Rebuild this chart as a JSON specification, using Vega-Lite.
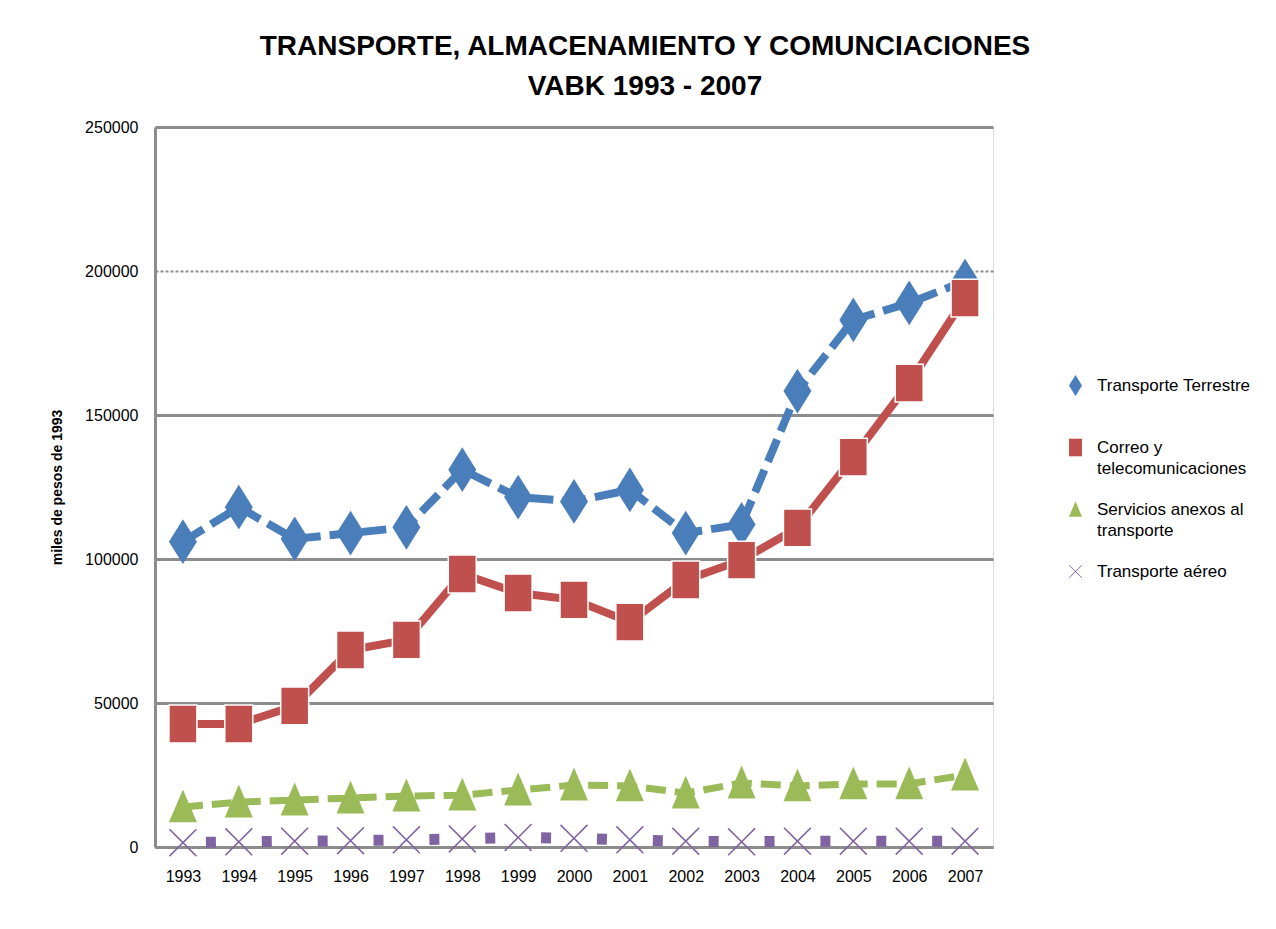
{
  "$schema": "https://vega.github.io/schema/vega-lite/v6.json",
  "autosize": "none",
  "width": 838,
  "height": 720,
  "padding": {"left": 155, "top": 127, "right": 283, "bottom": 82},
  "background": "white",
  "config": {"style": {"guide-label": {"lineHeight": 21}}},
  "title": {
    "text": ["TRANSPORTE, ALMACENAMIENTO Y COMUNCIACIONES", "VABK 1993 - 2007"],
    "font": "Liberation Sans",
    "fontSize": 28,
    "fontWeight": "bold",
    "color": "black",
    "lineHeight": 40,
    "anchor": "middle",
    "frame": "group",
    "dx": 71,
    "offset": 18
  },
  "data": {
    "values": [
      {"year": "1993", "series": "Transporte Terrestre", "value": 106000},
      {"year": "1994", "series": "Transporte Terrestre", "value": 118000},
      {"year": "1995", "series": "Transporte Terrestre", "value": 107000},
      {"year": "1996", "series": "Transporte Terrestre", "value": 109000},
      {"year": "1997", "series": "Transporte Terrestre", "value": 111000},
      {"year": "1998", "series": "Transporte Terrestre", "value": 131000},
      {"year": "1999", "series": "Transporte Terrestre", "value": 121500},
      {"year": "2000", "series": "Transporte Terrestre", "value": 120000},
      {"year": "2001", "series": "Transporte Terrestre", "value": 124000},
      {"year": "2002", "series": "Transporte Terrestre", "value": 109000},
      {"year": "2003", "series": "Transporte Terrestre", "value": 112000},
      {"year": "2004", "series": "Transporte Terrestre", "value": 158300},
      {"year": "2005", "series": "Transporte Terrestre", "value": 183000},
      {"year": "2006", "series": "Transporte Terrestre", "value": 188900},
      {"year": "2007", "series": "Transporte Terrestre", "value": 196500},
      {"year": "1993", "series": "Correo y telecomunicaciones", "value": 42700},
      {"year": "1994", "series": "Correo y telecomunicaciones", "value": 42700},
      {"year": "1995", "series": "Correo y telecomunicaciones", "value": 49000},
      {"year": "1996", "series": "Correo y telecomunicaciones", "value": 68400},
      {"year": "1997", "series": "Correo y telecomunicaciones", "value": 71900},
      {"year": "1998", "series": "Correo y telecomunicaciones", "value": 94800},
      {"year": "1999", "series": "Correo y telecomunicaciones", "value": 88200},
      {"year": "2000", "series": "Correo y telecomunicaciones", "value": 85800},
      {"year": "2001", "series": "Correo y telecomunicaciones", "value": 78100},
      {"year": "2002", "series": "Correo y telecomunicaciones", "value": 92700},
      {"year": "2003", "series": "Correo y telecomunicaciones", "value": 99600},
      {"year": "2004", "series": "Correo y telecomunicaciones", "value": 110800},
      {"year": "2005", "series": "Correo y telecomunicaciones", "value": 135400},
      {"year": "2006", "series": "Correo y telecomunicaciones", "value": 161100},
      {"year": "2007", "series": "Correo y telecomunicaciones", "value": 190600},
      {"year": "1993", "series": "Servicios anexos al transporte", "value": 13900},
      {"year": "1994", "series": "Servicios anexos al transporte", "value": 15600},
      {"year": "1995", "series": "Servicios anexos al transporte", "value": 16300},
      {"year": "1996", "series": "Servicios anexos al transporte", "value": 17000},
      {"year": "1997", "series": "Servicios anexos al transporte", "value": 17700},
      {"year": "1998", "series": "Servicios anexos al transporte", "value": 18000},
      {"year": "1999", "series": "Servicios anexos al transporte", "value": 19800},
      {"year": "2000", "series": "Servicios anexos al transporte", "value": 21500},
      {"year": "2001", "series": "Servicios anexos al transporte", "value": 21200},
      {"year": "2002", "series": "Servicios anexos al transporte", "value": 18700},
      {"year": "2003", "series": "Servicios anexos al transporte", "value": 22200},
      {"year": "2004", "series": "Servicios anexos al transporte", "value": 21200},
      {"year": "2005", "series": "Servicios anexos al transporte", "value": 21900},
      {"year": "2006", "series": "Servicios anexos al transporte", "value": 21900},
      {"year": "2007", "series": "Servicios anexos al transporte", "value": 25000},
      {"year": "1993", "series": "Transporte aéreo", "value": 1500},
      {"year": "1994", "series": "Transporte aéreo", "value": 1800},
      {"year": "1995", "series": "Transporte aéreo", "value": 2000},
      {"year": "1996", "series": "Transporte aéreo", "value": 2200},
      {"year": "1997", "series": "Transporte aéreo", "value": 2500},
      {"year": "1998", "series": "Transporte aéreo", "value": 2800},
      {"year": "1999", "series": "Transporte aéreo", "value": 3300},
      {"year": "2000", "series": "Transporte aéreo", "value": 3000},
      {"year": "2001", "series": "Transporte aéreo", "value": 2500},
      {"year": "2002", "series": "Transporte aéreo", "value": 2000},
      {"year": "2003", "series": "Transporte aéreo", "value": 1800},
      {"year": "2004", "series": "Transporte aéreo", "value": 2000},
      {"year": "2005", "series": "Transporte aéreo", "value": 2000},
      {"year": "2006", "series": "Transporte aéreo", "value": 2000},
      {"year": "2007", "series": "Transporte aéreo", "value": 2000}
    ]
  },
  "encoding": {
    "x": {
      "field": "year", "type": "ordinal", "title": null,
      "scale": {"type": "point", "padding": 0.5},
      "axis": {
        "labelAngle": 0, "labelFont": "Liberation Sans", "labelFontSize": 16, "labelColor": "black",
        "ticks": false, "labelPadding": 21, "domainColor": "#8c8c8c", "domainWidth": 3, "grid": false
      }
    },
    "y": {
      "field": "value", "type": "quantitative",
      "title": "miles de pesos de 1993",
      "scale": {"domain": [0, 250000], "nice": false},
      "axis": {
        "values": [0, 50000, 100000, 150000, 200000, 250000],
        "format": "d",
        "labelFont": "Liberation Sans", "labelFontSize": 16, "labelColor": "black",
        "labelPadding": 17, "ticks": false,
        "titleFont": "Liberation Sans", "titleFontSize": 14, "titleFontWeight": "bold", "titleColor": "black",
        "titlePadding": 20,
        "domainColor": "#8c8c8c", "domainWidth": 3,
        "grid": true,
        "gridColor": "#8c8c8c",
        "gridWidth": {"condition": {"test": "datum.value == 200000", "value": 2}, "value": 3},
        "gridDash": {"condition": {"test": "datum.value == 200000", "value": [3, 2]}, "value": []}
      }
    },
    "color": {
      "field": "series", "type": "nominal", "title": null,
      "scale": {
        "domain": ["Transporte Terrestre", "Correo y telecomunicaciones", "Servicios anexos al transporte", "Transporte aéreo"],
        "range": ["#4a7ebb", "#c0504d", "#9bbb59", "#8064a2"]
      },
      "legend": {
        "orient": "none", "legendX": 912, "legendY": 250,
        "labelFont": "Liberation Sans", "labelFontSize": 17, "labelColor": "black",
        "labelExpr": "datum.label == 'Correo y telecomunicaciones' ? ['Correo y', 'telecomunicaciones'] : datum.label == 'Servicios anexos al transporte' ? ['Servicios anexos al', 'transporte'] : datum.label == 'Transporte Terrestre' ? ['Transporte Terrestre', ' '] : datum.label",
        "labelBaseline": "middle",
        "symbolSize": 170, "rowPadding": 23, "labelOffset": 13,
        "symbolStrokeWidth": 0
      }
    }
  },
  "layer": [
    {
      "transform": [{"filter": "datum.series == 'Transporte Terrestre'"}],
      "mark": {"type": "line", "strokeWidth": 8, "strokeDash": [24, 9]}
    },
    {
      "transform": [{"filter": "datum.series == 'Correo y telecomunicaciones'"}],
      "mark": {"type": "line", "strokeWidth": 8}
    },
    {
      "transform": [{"filter": "datum.series == 'Servicios anexos al transporte'"}],
      "mark": {"type": "line", "strokeWidth": 7, "strokeDash": [20, 9]}
    },
    {
      "transform": [{"filter": "datum.series == 'Transporte aéreo'"}],
      "mark": {"type": "line", "strokeWidth": 11, "strokeDash": [10, 45.87], "strokeDashOffset": -23, "strokeCap": "butt"}
    },
    {
      "mark": {"type": "point", "filled": true, "opacity": 1, "size": 784},
      "encoding": {
        "shape": {
          "field": "series", "type": "nominal", "title": null,
          "scale": {
            "domain": ["Transporte Terrestre", "Correo y telecomunicaciones", "Servicios anexos al transporte", "Transporte aéreo"],
            "range": [
              "M0,-1.6L1,0L0,1.6L-1,0Z",
              "M-1,-1.35L1,-1.35L1,1.35L-1,1.35Z",
              "M0,-1.25L1,1.1L-1,1.1Z",
              "M-1,-0.92L-0.92,-1L0,-0.08L0.92,-1L1,-0.92L0.08,0L1,0.92L0.92,1L0,0.08L-0.92,1L-1,0.92L-0.08,0Z"
            ]
          }
        },
        "stroke": {
          "condition": {"test": "datum.series == 'Correo y telecomunicaciones'", "value": "white"},
          "value": null
        },
        "strokeWidth": {"value": 1.5}
      }
    }
  ]
}
